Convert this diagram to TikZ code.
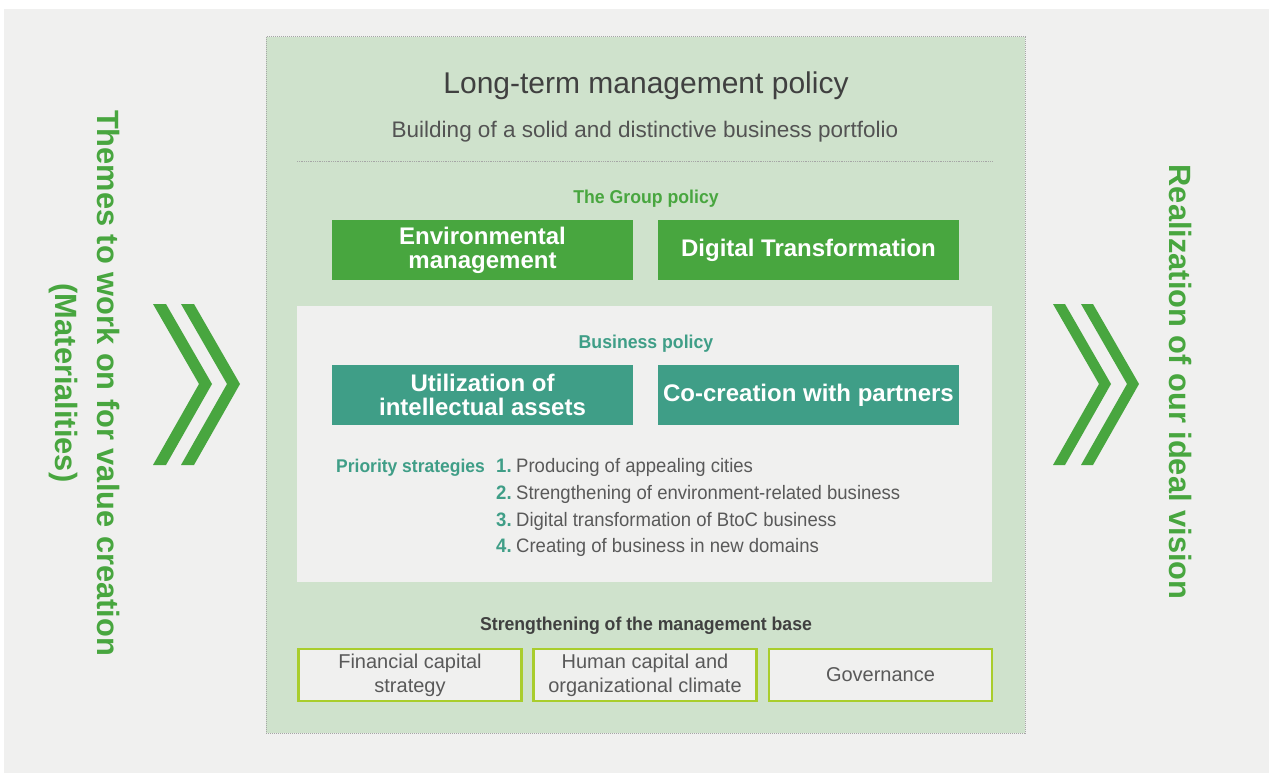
\documentclass[tikz,border=0pt]{standalone}
\usepackage{fontspec}
\setmainfont{Liberation Sans}
\newfontfamily\cond[FakeStretch=0.95]{Liberation Sans}
\definecolor{panelgray}{HTML}{F0F0EF}
\definecolor{panelgreen}{HTML}{CFE2CC}
\definecolor{leaf}{HTML}{48A63F}
\definecolor{teal}{HTML}{3F9E87}
\definecolor{lime}{HTML}{A9CD2C}
\definecolor{ink}{HTML}{595959}
\definecolor{darkink}{HTML}{404040}
\newcommand{\fsz}[2]{\fontsize{#1}{#2}\selectfont}
\tikzset{
  groupbox/.style={fill=leaf, draw=none, minimum width=301pt, minimum height=60pt,
    text=white, align=center, font=\bfseries\fsz{24}{26}, inner sep=0pt},
  bizbox/.style={groupbox, fill=teal},
  basebox/.style={fill=panelgray, draw=lime, line width=2.2pt, minimum width=223pt,
    minimum height=52pt, text=ink, align=center, font=\fsz{20}{24}, inner sep=0pt},
  heading/.style={font=\cond\bfseries\fsz{18.6}{22}, inner sep=0pt},
  item/.style={anchor=base west, font=\cond\fsz{19.5}{22}, text=ink, inner sep=0pt},
  num/.style={anchor=base west, font=\cond\bfseries\fsz{19.5}{22}, text=teal, inner sep=0pt},
  sidetext/.style={text=leaf, font=\bfseries\fsz{30.8}{36}, align=center, inner sep=0pt},
  chevron/.style={fill=leaf, draw=none}
}
\begin{document}
\begin{tikzpicture}[x=1pt,y=-1pt]
  \useasboundingbox (0,0) rectangle (1269,773);
  \fill[white] (0,0) rectangle (1269,773);
  % outer gray panel
  \fill[panelgray] (4,9) rectangle (1269,773);
  % long-term policy panel
  \fill[panelgreen] (266,37) rectangle (1025,733);
  \draw[gray!70, line width=1pt, densely dotted] (266,37) rectangle (1025,733);

  \node[font=\fsz{30}{34}, text=darkink, inner sep=0pt] (title) at (646,86) {Long-term management policy};
  \node[font=\fsz{22.5}{26}, text=darkink!90, inner sep=0pt] (subtitle) at (645,132) {Building of a solid and distinctive business portfolio};
  \coordinate (rulel) at (297,161);
  \coordinate (ruler) at (992,161);
  \draw[gray!70, line width=0.8pt, densely dotted] (rulel) -- (ruler);

  % group policy
  \node[heading, text=leaf] (grouphead) at (646,199) {The Group policy};
  \node[groupbox] (env) at (482.5,250) {Environmental\\[-2pt]management};
  \node[groupbox] (dx) at (808.5,250) {Digital Transformation};

  % business policy panel
  \fill[panelgray] (297,306) rectangle (992,582);
  \node[heading, text=teal] (bizhead) at (646,344) {Business policy};
  \node[bizbox] (ip) at (482.5,395) {Utilization of\\[-2pt]intellectual assets};
  \node[bizbox] (cocreate) at (808.5,395) {Co-creation with partners};

  \node[anchor=base west, font=\cond\bfseries\fsz{18.4}{22}, text=teal, inner sep=0pt] (prio) at (336,472) {Priority strategies};
  \node[num] (n1) at (496,472) {1.};
  \node[num] (n2) at (496,499) {2.};
  \node[num] (n3) at (496,526) {3.};
  \node[num] (n4) at (496,552) {4.};
  \node[item] (s1) at (516,472) {Producing of appealing cities};
  \node[item] (s2) at (516,499) {Strengthening of environment-related business};
  \node[item] (s3) at (516,526) {Digital transformation of BtoC business};
  \node[item] (s4) at (516,552) {Creating of business in new domains};

  % management base
  \node[heading, text=darkink] (basehead) at (646,626) {Strengthening of the management base};
  \node[basebox] (fin) at (410,675) {Financial capital\\strategy};
  \node[basebox] (hum) at (645,675) {Human capital and\\organizational climate};
  \node[basebox] (gov) at (880.5,675) {Governance};

  % side captions
  \node[sidetext, rotate=-90] (themes) at (84,383) {Themes to work on for value creation\\[6pt](Materialities)};
  \node[sidetext, rotate=-90] (vision) at (1180,382) {Realization of our ideal vision};

  % double chevrons
  \foreach \dx in {0,28} {
    \fill[chevron] (153+\dx,304) -- (166+\dx,304) -- (212+\dx,384) -- (166+\dx,465)
      -- (153+\dx,465) -- (199+\dx,384) -- cycle;
  }
  \foreach \dx in {0,28} {
    \fill[chevron] (1053+\dx,304) -- (1065+\dx,304) -- (1111+\dx,384) -- (1065+\dx,465)
      -- (1053+\dx,465) -- (1099+\dx,384) -- cycle;
  }
\end{tikzpicture}
\end{document}
